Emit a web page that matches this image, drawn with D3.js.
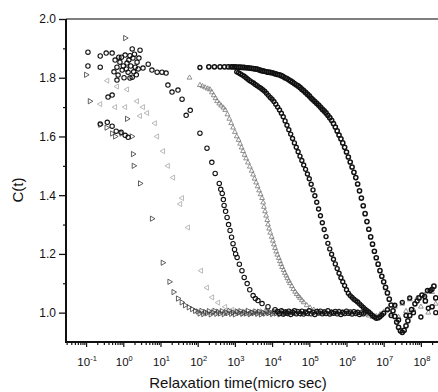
<!DOCTYPE html>
<html><head><meta charset="utf-8">
<script src="https://cdn.jsdelivr.net/npm/d3@7"></script>
<style>body{margin:0;background:#fff}svg{display:block}text{font-family:"Liberation Sans",Arial,sans-serif;fill:#111}</style>
</head><body><svg id="c" width="438" height="392"></svg>
<script>
// ---- data: [log10(time in micro sec), C(t)] ----
const xTickExps = [-1,0,1,2,3,4,5,6,7,8];
const yTicks = [1.0,1.2,1.4,1.6,1.8,2.0];
const yMinorTicks = [1.1,1.3,1.5,1.7,1.9];

const seriesA = [[-1.00,1.81],[-0.90,1.72],[-0.62,1.64],[-0.45,1.63],[-0.30,1.61],[-0.22,1.60],[-0.05,1.61],[0.05,1.935],[0.10,1.66],[0.23,1.60],[0.26,1.54],[0.28,1.50],[0.45,1.44],[0.77,1.32],[1.06,1.17],[1.24,1.105],[1.35,1.07],[1.47,1.048],[1.57,1.035],[1.66,1.025],[1.76,1.018],[1.85,1.012],[1.93,1.006],
[2.0,1.004],[2.05,0.997],[2.1,1.006],[2.15,0.995],[2.2,1.002],[2.25,0.998],[2.3,1.005],[2.35,0.994],[2.4,1.001],[2.45,1.006],[2.5,0.996],[2.55,1.003],[2.6,0.997],[2.65,1.005],[2.7,0.995],[2.75,1.002],[2.8,0.998],[2.85,1.006],[2.9,0.996],[2.95,1.001],[3.0,0.994],[3.05,1.004],[3.1,0.999],[3.15,1.005],[3.2,0.996],[3.25,1.002],[3.3,0.997],[3.35,1.006],[3.4,0.995],[3.45,1.001],[3.5,0.998],[3.55,1.004],[3.6,0.996],[3.65,1.003],[3.7,0.994],[3.75,1.001],[3.8,0.997],[3.85,1.005],[3.9,0.998],[3.95,1.002],[4.0,0.995],[4.05,1.003],[4.1,0.997],[4.15,1.001],[4.2,0.994],[4.25,0.999],[4.3,1.004],[4.35,0.996],[4.4,1.002],[4.45,0.997],[4.5,1.003],[4.6,0.998],[4.7,1.004],[4.8,0.996],[4.9,1.001]];

const seriesB = [[-0.43,1.79],[-0.17,1.77],[0.10,1.76],[-0.62,1.71],[-0.22,1.70],[0.05,1.70],[0.37,1.72],[0.53,1.70],[0.64,1.68],[0.45,1.67],[0.85,1.645],[0.91,1.60],[1.07,1.55],[1.20,1.50],[1.34,1.46],[1.58,1.39],[1.53,1.37],[1.74,1.29],[2.09,1.143],[2.25,1.085],[2.39,1.052],[2.55,1.034],[2.74,1.02],[2.93,1.01],
[3.05,1.004],[3.15,0.997],[3.25,1.003],[3.35,0.995],[3.45,1.002],[3.55,0.998],[3.65,1.005],[3.75,0.996],[3.85,1.001],[3.95,0.997],[4.05,1.004],[4.15,0.999],[4.25,0.995],[4.35,1.003],[4.45,0.998],[4.55,1.002],[4.65,0.996],[4.75,1.004],[4.85,0.999],[4.95,0.995],[5.05,1.002],[5.15,0.998],[5.25,1.004],[5.35,0.997],[5.45,1.001],[5.55,0.996],[5.65,1.003],[5.75,0.998],[5.85,1.002],[5.95,0.997]];

const seriesC = [[-0.95,1.887],[-0.95,1.840],[-0.62,1.874],[-0.62,1.836],[-0.46,1.884],[-0.30,1.884],[-0.22,1.860],[-0.17,1.836],[-0.14,1.809],[-0.09,1.853],[-0.03,1.826],[0.05,1.877],[0.10,1.850],[0.13,1.819],[0.18,1.799],[0.24,1.898],[0.26,1.867],[0.32,1.836],[0.37,1.853],[0.42,1.867],[0.45,1.894],[0.24,1.802],[-0.17,1.792],[-0.41,1.734],[-0.30,1.741],[-0.62,1.642],[-0.43,1.648],[-0.30,1.635],[-0.19,1.618],[-0.06,1.614],[0.05,1.604],[0.13,1.597],
[-0.05,1.87],[0.00,1.84],[0.08,1.83],[0.15,1.86],[0.20,1.84],[0.28,1.82],[0.35,1.81],[-0.12,1.87],[0.30,1.88],[0.02,1.80],[-0.25,1.82],[0.40,1.83],[0.18,1.875],
[0.53,1.833],[0.67,1.846],[0.77,1.826],[0.91,1.819],[1.04,1.819],[1.15,1.816],[1.20,1.775],[1.31,1.751],[1.47,1.758],[1.58,1.727],[1.69,1.672],[1.80,1.689],[2.06,1.611],[2.25,1.560],[2.38,1.512],[2.47,1.474],[2.58,1.440],[2.62,1.42],[2.66,1.406],[2.69,1.385],[2.71,1.365],[2.75,1.345],[2.79,1.324],[2.83,1.30],[2.87,1.280],[2.91,1.257],[2.95,1.235],[2.99,1.215],[3.02,1.20],[3.06,1.188],[3.12,1.165],[3.19,1.143],[3.25,1.12],[3.33,1.099],[3.40,1.078],[3.49,1.058],[3.55,1.048],[3.62,1.041],[3.73,1.031],[3.89,1.020],[4.08,1.010],
[4.15,1.004],[4.2,0.997],[4.25,1.006],[4.3,0.995],[4.35,1.002],[4.4,0.998],[4.45,1.005],[4.5,0.994],[4.55,1.001],[4.6,1.006],[4.65,0.996],[4.7,1.003],[4.75,0.997],[4.8,1.005],[4.85,0.995],[4.9,1.002],[4.95,0.998],[5.0,1.006],[5.05,0.996],[5.1,1.001],[5.15,0.994],[5.2,1.004],[5.25,0.999],[5.3,1.005],[5.35,0.996],[5.4,1.002],[5.45,0.997],[5.5,1.006],[5.55,0.995],[5.6,1.001],[5.65,0.998],[5.7,1.004],[5.75,0.996],[5.8,1.003],[5.85,0.994],[5.9,1.001],[5.95,0.997],[6.0,1.005],[6.05,0.998],[6.1,1.002],[6.15,0.995],[6.2,1.003],[6.25,0.997],[6.3,1.001],[6.35,0.994],[6.4,0.999],[6.45,0.996],[6.5,1.002]];

const seriesD = [[1.78,1.80],[2.06,1.775],[2.13,1.771],[2.20,1.767],[2.27,1.763],[2.33,1.76],[2.38,1.75],[2.43,1.74],[2.48,1.73],[2.52,1.72],[2.58,1.712],[2.63,1.705],[2.69,1.698],[2.74,1.69],[2.80,1.675],[2.85,1.66],[2.90,1.645],[2.95,1.63],[3.00,1.615],[3.05,1.60],[3.10,1.588],[3.14,1.575],[3.18,1.562],[3.22,1.55],[3.26,1.537],[3.30,1.525],[3.35,1.511],[3.40,1.497],[3.45,1.483],[3.49,1.47],[3.53,1.456],[3.57,1.443],[3.61,1.43],[3.65,1.416],[3.69,1.403],[3.73,1.39],[3.76,1.375],[3.78,1.36],[3.81,1.345],[3.84,1.33],[3.87,1.315],[3.89,1.30],[3.92,1.286],[3.95,1.272],[3.99,1.258],[4.02,1.245],[4.05,1.232],[4.08,1.22],[4.11,1.208],[4.14,1.197],[4.18,1.186],[4.21,1.175],[4.24,1.165],[4.27,1.155],[4.31,1.145],[4.34,1.135],[4.38,1.126],[4.41,1.117],[4.45,1.108],[4.48,1.10],[4.53,1.09],[4.57,1.08],[4.62,1.071],[4.66,1.063],[4.71,1.056],[4.75,1.05],[4.80,1.042],[4.85,1.035],[4.93,1.025],[5.02,1.017],[5.12,1.01],[5.22,1.005],
[5.3,0.998],[5.4,1.003],[5.5,0.996],[5.6,1.002],[5.7,0.998],[5.8,1.004],[5.9,0.997],[6.0,1.001],[6.1,0.995],[6.2,1.003],[6.3,0.998],[6.4,1.002],[6.5,0.994],[6.6,0.990],[6.7,0.985],[6.8,0.988],[6.9,0.994],[7.0,1.002],[7.1,1.012],[7.2,0.995],[7.3,1.020],[7.4,0.985],[7.5,1.030],[7.6,1.005],[7.7,1.045],[7.8,1.010],[7.9,1.050],[8.0,1.020],[8.1,1.060],[8.2,1.000],[8.3,1.070],[8.4,1.030]];

const seriesE = [[2.06,1.835],[3.05,1.820],[3.10,1.817],[3.15,1.813],[3.20,1.809],[3.25,1.805],[3.30,1.800],[3.35,1.795],[3.40,1.790],[3.45,1.786],[3.50,1.782],[3.55,1.777],[3.60,1.773],[3.65,1.768],[3.70,1.764],[3.75,1.759],[3.80,1.754],[3.85,1.747],[3.90,1.740],[3.95,1.733],[4.00,1.727],[4.05,1.719],[4.10,1.710],[4.15,1.700],[4.20,1.690],[4.25,1.679],[4.30,1.667],[4.35,1.653],[4.40,1.638],[4.45,1.623],[4.50,1.608],[4.55,1.593],[4.60,1.578],[4.65,1.563],[4.70,1.548],[4.75,1.533],[4.80,1.518],[4.85,1.503],[4.90,1.488],[4.95,1.472],[5.00,1.456],[5.05,1.437],[5.10,1.418],[5.15,1.398],[5.20,1.376],[5.25,1.353],[5.30,1.330],[5.35,1.306],[5.40,1.283],[5.45,1.259],[5.50,1.236],[5.55,1.217],[5.60,1.199],[5.65,1.182],[5.70,1.166],[5.75,1.150],[5.80,1.134],[5.85,1.119],[5.90,1.105],[5.95,1.092],[6.00,1.078],[6.05,1.066],[6.10,1.058],[6.15,1.052],[6.20,1.046],[6.25,1.041],[6.30,1.036],[6.35,1.030],[6.40,1.024],[6.45,1.018],[6.50,1.012],[6.55,1.007],[6.60,1.002],[6.65,0.996],[6.70,0.990],[6.75,0.985],[6.80,0.981],[6.85,0.982],[6.90,0.986],[6.95,0.992],[7.00,0.998],
[7.1,1.010],[7.2,0.990],[7.3,1.025],[7.4,0.975],[7.5,1.035],[7.6,0.990],[7.7,1.050],[7.8,1.000],[7.9,1.040],[8.0,0.985],[8.1,1.055],[8.2,1.015],[8.3,1.080],[8.4,1.000]];

const seriesF = [[2.30,1.837],[2.45,1.837],[2.60,1.837],[2.72,1.837],[2.82,1.837],[2.90,1.837],[2.95,1.837],[3.00,1.837],[3.05,1.836],[3.10,1.836],[3.15,1.836],[3.20,1.835],[3.25,1.835],[3.30,1.834],[3.35,1.834],[3.40,1.833],[3.45,1.832],[3.50,1.831],[3.55,1.830],[3.60,1.829],[3.65,1.827],[3.70,1.825],[3.75,1.823],[3.80,1.822],[3.85,1.820],[3.90,1.819],[3.95,1.818],[4.00,1.817],[4.05,1.815],[4.10,1.813],[4.15,1.811],[4.20,1.810],[4.25,1.807],[4.30,1.804],[4.35,1.800],[4.40,1.797],[4.45,1.793],[4.50,1.789],[4.55,1.785],[4.60,1.780],[4.65,1.776],[4.70,1.772],[4.75,1.767],[4.80,1.761],[4.85,1.756],[4.90,1.750],[4.95,1.744],[5.00,1.738],[5.05,1.731],[5.10,1.725],[5.15,1.719],[5.20,1.713],[5.25,1.707],[5.30,1.700],[5.35,1.693],[5.40,1.687],[5.45,1.680],[5.50,1.672],[5.55,1.664],[5.60,1.655],[5.65,1.644],[5.70,1.632],[5.75,1.619],[5.80,1.605],[5.85,1.592],[5.90,1.578],[5.95,1.563],[6.00,1.547],[6.05,1.530],[6.10,1.513],[6.15,1.496],[6.20,1.478],[6.25,1.460],[6.30,1.438],[6.35,1.415],[6.40,1.390],[6.45,1.364],[6.50,1.337],[6.55,1.310],[6.60,1.284],[6.65,1.258],[6.70,1.233],[6.75,1.209],[6.80,1.187],[6.85,1.165],[6.90,1.143],[6.95,1.124],[7.00,1.105],[7.05,1.086],[7.10,1.067],[7.15,1.046],[7.20,1.026],[7.25,1.006],[7.30,0.987],[7.35,0.968],[7.40,0.950],[7.45,0.938],[7.50,0.933],[7.55,0.940],[7.60,0.955],[7.65,0.972],[7.70,0.990],[7.75,1.010],[7.84,1.030],[7.95,1.050],[8.03,1.060],[8.12,1.040],[8.18,1.075],[8.25,1.075],[8.30,1.020],[8.35,1.090],[8.40,1.050]];

const seriesStyle = [
  {data: seriesB, shape: "tri", rot: -90, color: "#a8a8a8", size: 11, sw: 0.8},
  {data: seriesA, shape: "tri", rot: 90, color: "#3a3a3a", size: 12, sw: 0.8},
  {data: seriesD, shape: "tri", rot: 0, color: "#777", size: 10, sw: 0.8},
  {data: seriesC, shape: "circle", color: "#111", r: 2.2, sw: 1.1},
  {data: seriesE, shape: "circle", color: "#111", r: 2.0, sw: 1.4},
  {data: seriesF, shape: "circle", color: "#111", r: 2.1, sw: 1.5}
];

const W = 438, H = 392;
const L = 66, R = 438, T = 19, B = 342;
const svg = d3.select("#c");
const x = d3.scaleLog().domain([Math.pow(10,-1.54), Math.pow(10,8.46)]).range([L, R]);
const y = d3.scaleLinear().domain([0.9, 2.0]).range([B, T]);

// series
const g = svg.append("g");
seriesStyle.forEach(s => {
  const sel = g.append("g").selectAll("path").data(s.data).enter();
  if (s.shape === "circle") {
    sel.append("circle")
      .attr("cx", d => x(Math.pow(10, d[0]))).attr("cy", d => y(d[1])).attr("r", s.r)
      .attr("fill", "none").attr("stroke", s.color).attr("stroke-width", s.sw);
  } else {
    const sym = d3.symbol().type(d3.symbolTriangle).size(s.size);
    sel.append("path").attr("d", sym)
      .attr("transform", d => `translate(${x(Math.pow(10, d[0]))},${y(d[1])}) rotate(${s.rot})`)
      .attr("fill", "none").attr("stroke", s.color).attr("stroke-width", s.sw);
  }
});

// axes
const majors = xTickExps.map(e => Math.pow(10, e));
const minors = [];
for (let e = -2; e <= 8; e++) for (let k = 2; k <= 9; k++) {
  const v = k * Math.pow(10, e);
  if (v >= x.domain()[0] && v <= x.domain()[1]) minors.push(v);
}
const xAxisMajor = svg.append("g").attr("transform", `translate(0,${B})`)
  .call(d3.axisBottom(x).tickValues(majors).tickSize(5).tickFormat(""));
const xAxisMinor = svg.append("g").attr("transform", `translate(0,${B})`)
  .call(d3.axisBottom(x).tickValues(minors).tickSize(3).tickFormat(""));
[xAxisMajor, xAxisMinor].forEach(a => {
  a.select(".domain").remove();
  a.selectAll("line").attr("stroke", "#111").attr("stroke-width", 1.2);
});
const lab = svg.append("g");
xTickExps.forEach(e => {
  const t = lab.append("text").attr("x", x(Math.pow(10, e)) + 1).attr("y", 366)
    .attr("text-anchor", "middle").attr("font-size", 11.5);
  t.append("tspan").text("10");
  t.append("tspan").attr("dy", -5).attr("font-size", 7.5).text(String(e));
});

const yAxis = svg.append("g").attr("transform", `translate(${L},0)`)
  .call(d3.axisLeft(y).tickValues(yTicks).tickSize(7).tickPadding(3).tickFormat(d3.format(".1f")));
yAxis.select(".domain").remove();
yAxis.selectAll("line").attr("stroke", "#111").attr("stroke-width", 1.3);
yAxis.selectAll("text").attr("font-size", 12).attr("fill", "#111")
  .style("font-family", '"Liberation Sans",Arial,sans-serif');
const yAxisMinor = svg.append("g").attr("transform", `translate(${L},0)`)
  .call(d3.axisLeft(y).tickValues(yMinorTicks).tickSize(3).tickFormat(""));
yAxisMinor.select(".domain").remove();
yAxisMinor.selectAll("line").attr("stroke", "#111").attr("stroke-width", 1.2);

// frame lines
svg.append("line").attr("x1", L).attr("x2", R).attr("y1", T).attr("y2", T)
  .attr("stroke", "#555").attr("stroke-width", 1.5);
svg.append("line").attr("x1", L).attr("x2", L).attr("y1", T).attr("y2", B)
  .attr("stroke", "#111").attr("stroke-width", 2);
svg.append("line").attr("x1", L-1).attr("x2", R).attr("y1", B).attr("y2", B)
  .attr("stroke", "#111").attr("stroke-width", 2);

// titles
svg.append("text").attr("x", 238).attr("y", 388).attr("text-anchor", "middle")
  .attr("font-size", 15).text("Relaxation time(micro sec)");
svg.append("text").attr("transform", "translate(23,190) rotate(-90)").attr("text-anchor", "middle")
  .attr("font-size", 15).text("C(t)");
</script></body></html>
